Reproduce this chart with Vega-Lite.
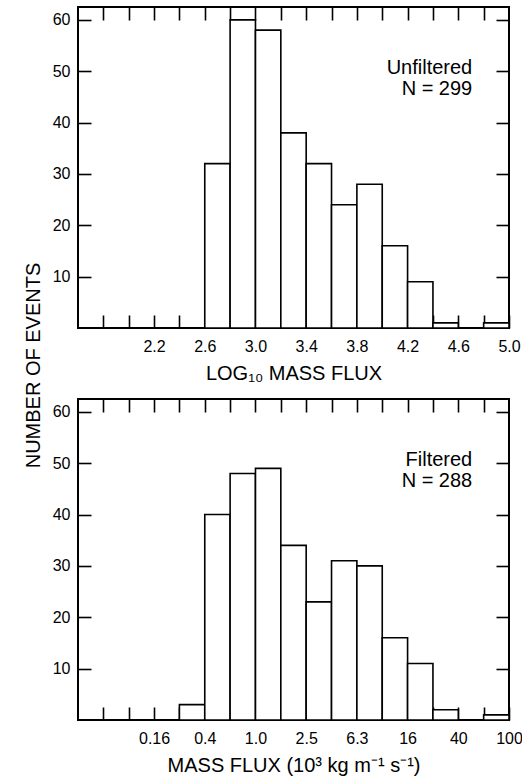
{
  "$schema": "https://vega.github.io/schema/vega-lite/v6.json",
  "padding": {"left": 22, "top": 5, "right": 2, "bottom": 5},
  "bounds": "flush",
  "spacing": 71,
  "config": {
    "font": "Liberation Sans",
    "view": {"stroke": "black", "strokeWidth": 2},
    "axis": {"domain": false, "grid": false, "tickColor": "black", "tickWidth": 1.6, "labelColor": "black", "titleColor": "black", "labelFont": "Liberation Sans", "titleFont": "Liberation Sans", "labelFontSize": 16, "titleFontSize": 20, "titleFontWeight": "normal", "labelOverlap": false, "labelFlush": false, "labelBound": false, "zindex": 1}
  },
  "vconcat": [
    {
      "width": 431,
      "height": 321,
      "data": {"values": [
        {"lo": 2.6, "hi": 2.8, "n": 32},
        {"lo": 2.8, "hi": 3.0, "n": 60},
        {"lo": 3.0, "hi": 3.2, "n": 58},
        {"lo": 3.2, "hi": 3.4, "n": 38},
        {"lo": 3.4, "hi": 3.6, "n": 32},
        {"lo": 3.6, "hi": 3.8, "n": 24},
        {"lo": 3.8, "hi": 4.0, "n": 28},
        {"lo": 4.0, "hi": 4.2, "n": 16},
        {"lo": 4.2, "hi": 4.4, "n": 9},
        {"lo": 4.4, "hi": 4.6, "n": 1},
        {"lo": 4.6, "hi": 4.8, "n": 0},
        {"lo": 4.8, "hi": 5.0, "n": 1}
      ]},
      "resolve": {"axis": {"x": "independent", "y": "independent"}},
      "layer": [
        {
          "mark": {"type": "rect", "fill": "white", "stroke": "black", "strokeWidth": 1.6},
          "encoding": {
            "x": {"field": "lo", "type": "quantitative", "scale": {"domain": [1.6, 5.0], "nice": false, "zero": false},
              "axis": {"orient": "bottom", "values": [1.8, 2.0, 2.2, 2.4, 2.6, 2.8, 3.0, 3.2, 3.4, 3.6, 3.8, 4.0, 4.2, 4.4, 4.6, 4.8, 5.0], "tickSize": -13, "labelPadding": 23,
                "labelExpr": "indexof(['2.2','2.6','3.0','3.4','3.8','4.2','4.6','5.0'], format(datum.value, '.1f')) >= 0 ? format(datum.value, '.1f') : ''",
                "title": "LOG₁₀ MASS FLUX", "titlePadding": 9}},
            "x2": {"field": "hi"},
            "y": {"field": "n", "type": "quantitative", "scale": {"domain": [0, 62.5], "nice": false},
              "axis": {"orient": "left", "values": [10, 20, 30, 40, 50, 60], "tickSize": -13, "labelPadding": 21,
                "title": "NUMBER OF EVENTS", "titleX": -35, "titleY": 358}},
            "y2": {"datum": 0}
          }
        },
        {
          "data": {"values": [{"label": ["Unfiltered", "N = 299"]}]},
          "mark": {"type": "text", "align": "right", "baseline": "middle", "fontSize": 20, "lineHeight": 21, "color": "black"},
          "encoding": {
            "x": {"datum": 4.71, "type": "quantitative", "axis": {"orient": "top", "values": [1.8, 2.0, 2.2, 2.4, 2.6, 2.8, 3.0, 3.2, 3.4, 3.6, 3.8, 4.0, 4.2, 4.4, 4.6, 4.8], "tickSize": -13, "labels": false, "title": null}},
            "y": {"datum": 50.6, "type": "quantitative", "axis": {"orient": "right", "values": [10, 20, 30, 40, 50, 60], "tickSize": -13, "labels": false, "title": null}},
            "text": {"field": "label"}
          }
        }
      ]
    },
    {
      "width": 431,
      "height": 321,
      "data": {"values": [
        {"lo": 2.4, "hi": 2.6, "n": 3},
        {"lo": 2.6, "hi": 2.8, "n": 40},
        {"lo": 2.8, "hi": 3.0, "n": 48},
        {"lo": 3.0, "hi": 3.2, "n": 49},
        {"lo": 3.2, "hi": 3.4, "n": 34},
        {"lo": 3.4, "hi": 3.6, "n": 23},
        {"lo": 3.6, "hi": 3.8, "n": 31},
        {"lo": 3.8, "hi": 4.0, "n": 30},
        {"lo": 4.0, "hi": 4.2, "n": 16},
        {"lo": 4.2, "hi": 4.4, "n": 11},
        {"lo": 4.4, "hi": 4.6, "n": 2},
        {"lo": 4.6, "hi": 4.8, "n": 0},
        {"lo": 4.8, "hi": 5.0, "n": 1}
      ]},
      "resolve": {"axis": {"x": "independent", "y": "independent"}},
      "layer": [
        {
          "mark": {"type": "rect", "fill": "white", "stroke": "black", "strokeWidth": 1.6},
          "encoding": {
            "x": {"field": "lo", "type": "quantitative", "scale": {"domain": [1.6, 5.0], "nice": false, "zero": false},
              "axis": {"orient": "bottom", "values": [1.8, 2.0, 2.2, 2.4, 2.6, 2.8, 3.0, 3.2, 3.4, 3.6, 3.8, 4.0, 4.2, 4.4, 4.6, 4.8, 5.0], "tickSize": -13, "labelPadding": 23,
                "labelExpr": "['0.16','0.4','1.0','2.5','6.3','16','40','100'][indexof(['2.2','2.6','3.0','3.4','3.8','4.2','4.6','5.0'], format(datum.value, '.1f'))] || ''",
                "title": "MASS FLUX (10³ kg m⁻¹ s⁻¹)", "titlePadding": 9}},
            "x2": {"field": "hi"},
            "y": {"field": "n", "type": "quantitative", "scale": {"domain": [0, 62.5], "nice": false},
              "axis": {"orient": "left", "values": [10, 20, 30, 40, 50, 60], "tickSize": -13, "labelPadding": 21, "title": null}},
            "y2": {"datum": 0}
          }
        },
        {
          "data": {"values": [{"label": ["Filtered", "N = 288"]}]},
          "mark": {"type": "text", "align": "right", "baseline": "middle", "fontSize": 20, "lineHeight": 21, "color": "black"},
          "encoding": {
            "x": {"datum": 4.71, "type": "quantitative", "axis": {"orient": "top", "values": [1.8, 2.0, 2.2, 2.4, 2.6, 2.8, 3.0, 3.2, 3.4, 3.6, 3.8, 4.0, 4.2, 4.4, 4.6, 4.8], "tickSize": -13, "labels": false, "title": null}},
            "y": {"datum": 50.7, "type": "quantitative", "axis": {"orient": "right", "values": [10, 20, 30, 40, 50, 60], "tickSize": -13, "labels": false, "title": null}},
            "text": {"field": "label"}
          }
        }
      ]
    }
  ]
}
